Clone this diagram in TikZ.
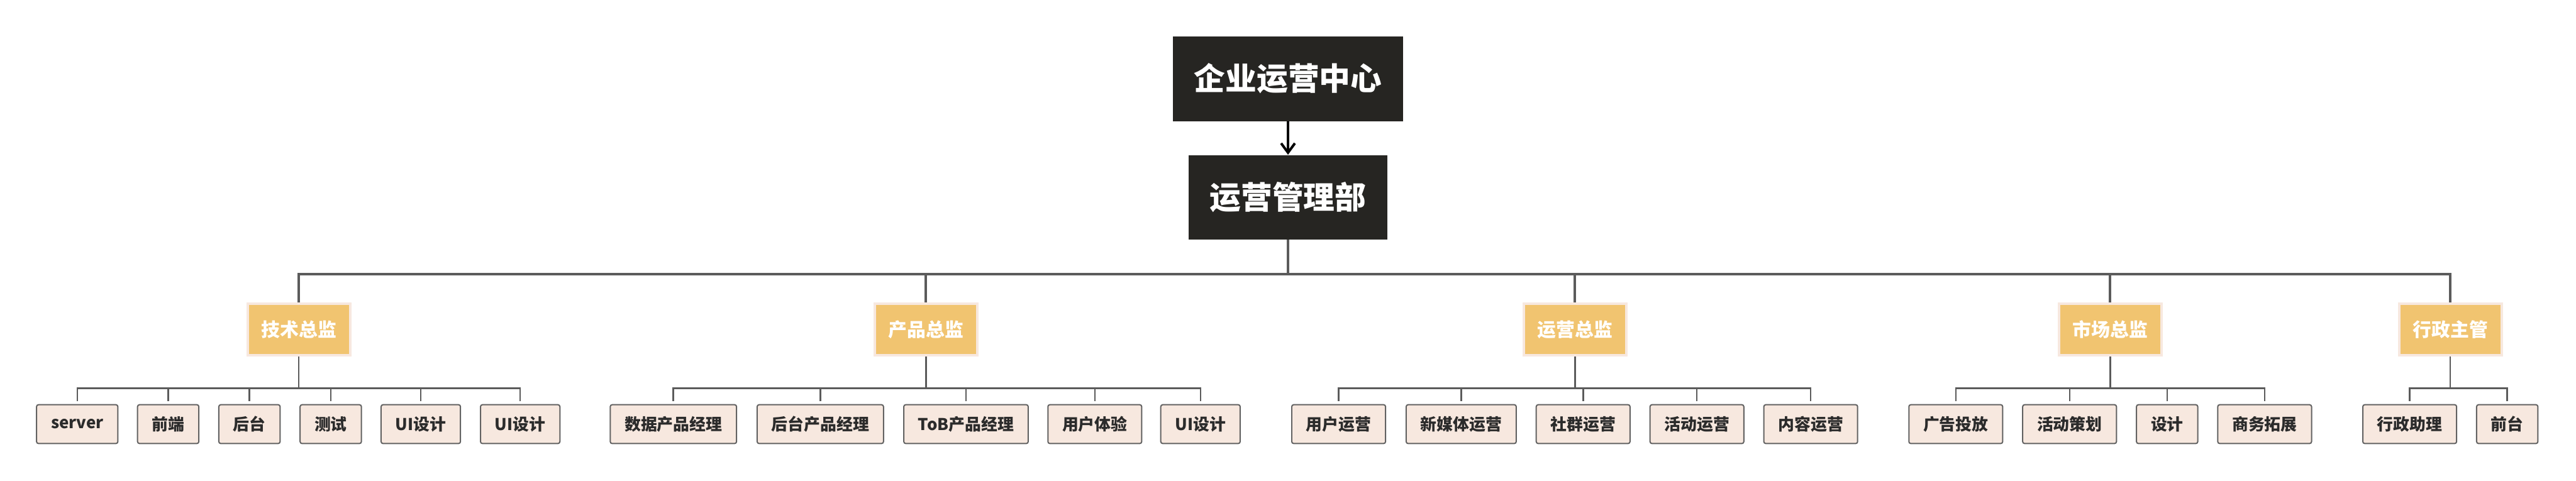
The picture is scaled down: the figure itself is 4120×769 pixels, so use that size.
\documentclass[tikz,border=0pt]{standalone}
\usepackage{fontspec}
\setmainfont{Noto Sans CJK SC}
\usetikzlibrary{arrows.meta,backgrounds}
\definecolor{dark}{HTML}{262522}
\definecolor{gold}{HTML}{F1C470}
\definecolor{pale}{HTML}{F7E8DF}
\definecolor{leafedge}{HTML}{626262}
\definecolor{leaftext}{HTML}{2B2B2B}
\definecolor{linegray}{HTML}{5B5B5B}
\begin{document}
\begin{tikzpicture}[x=0.5pt,y=-0.5pt,
  topbox/.style={fill=dark, draw=none, text=white, inner sep=0pt,
    font=\fontsize{25}{30}\selectfont\bfseries},
  dirbox/.style={fill=gold, draw=pale, line width=2pt, minimum width=82pt,
    minimum height=41pt, inner sep=0pt, text=white,
    font=\fontsize{15}{18}\selectfont\bfseries},
  leaf/.style={fill=pale, draw=leafedge, line width=1pt, rounded corners=1.5pt,
    minimum height=31pt, inner xsep=11.5pt, inner ysep=0pt, text=leaftext,
    font=\fontsize{13}{16}\selectfont\bfseries},
  bus/.style={draw=linegray, line width=2pt},
  sub/.style={draw=linegray, line width=1.25pt},
  arrowline/.style={draw=black, line width=2pt,
    -{Straight Barb[length=7.5pt,width=11pt]}}]
\useasboundingbox (0,0) rectangle (4120,769);

% top levels
\node[topbox, minimum width=184pt, minimum height=68pt] (top) at (2060,126) {企业运营中心};
\node[topbox, minimum width=159pt, minimum height=67.5pt] (mgr) at (2060,315.5) {运营管理部};

% directors
\node[dirbox] (tech) at (478,527) {技术总监};
\node[dirbox] (prod) at (1481,527) {产品总监};
\node[dirbox] (ops)  at (2519,527) {运营总监};
\node[dirbox] (mkt)  at (3375,527) {市场总监};
\node[dirbox] (adm)  at (3919,527) {行政主管};

% leaves
\node[leaf] (t1) at (123.5,678.5) {server};
\node[leaf] (t2) at (269,678.5) {前端};
\node[leaf] (t3) at (399,678.5) {后台};
\node[leaf] (t4) at (529,678.5) {测试};
\node[leaf] (t5) at (673,678.5) {UI设计};
\node[leaf] (t6) at (832,678.5) {UI设计};

\node[leaf] (p1) at (1077,678.5) {数据产品经理};
\node[leaf] (p2) at (1312,678.5) {后台产品经理};
\node[leaf] (p3) at (1545,678.5) {ToB产品经理};
\node[leaf] (p4) at (1751,678.5) {用户体验};
\node[leaf] (p5) at (1920,678.5) {UI设计};

\node[leaf] (o1) at (2141,678.5) {用户运营};
\node[leaf] (o2) at (2337,678.5) {新媒体运营};
\node[leaf] (o3) at (2532,678.5) {社群运营};
\node[leaf] (o4) at (2714,678.5) {活动运营};
\node[leaf] (o5) at (2896,678.5) {内容运营};

\node[leaf] (m1) at (3128,678.5) {广告投放};
\node[leaf] (m2) at (3310,678.5) {活动策划};
\node[leaf] (m3) at (3466,678.5) {设计};
\node[leaf] (m4) at (3622,678.5) {商务拓展};

\node[leaf] (a1) at (3854,678.5) {行政助理};
\node[leaf] (a2) at (4010,678.5) {前台};

\coordinate (busy) at (0,439);
\coordinate (suby) at (0,621);

\begin{scope}[on background layer]
  \draw[arrowline] (top.south) -- (mgr.north);
  \coordinate (bus) at (mgr.south |- busy);
  \draw[bus] (mgr.south) -- (bus);
  \foreach \d in {tech,prod,ops,mkt,adm}
    \draw[bus] (bus) -| (\d.north);
  \foreach \d/\cs in {tech/{t1,t2,t3,t4,t5,t6}, prod/{p1,p2,p3,p4,p5},
                      ops/{o1,o2,o3,o4,o5}, mkt/{m1,m2,m3,m4}, adm/{a1,a2}} {
    \draw[sub] (\d.south) -- (\d.south |- suby);
    \foreach \c in \cs
      \draw[sub, shorten >=2.5pt] (\d.south |- suby) -| (\c.north);
  }
\end{scope}
\end{tikzpicture}
\end{document}
